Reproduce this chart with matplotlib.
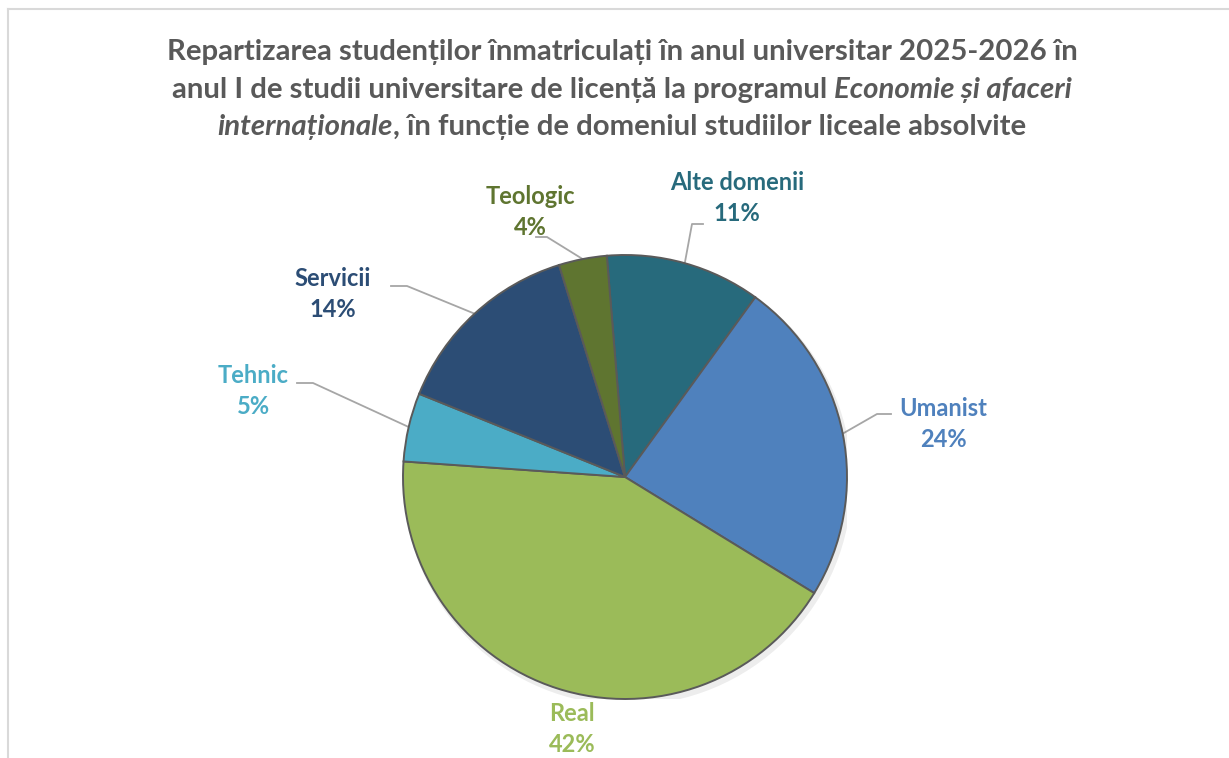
import numpy as np
import matplotlib
matplotlib.use('Agg')
import matplotlib.pyplot as plt

# data (percent of enrolled students)
categories = ['Alte domenii', 'Umanist', 'Real', 'Tehnic', 'Servicii', 'Teologic']
shares = [11.3, 23.8, 42.4, 5.0, 14.1, 3.5]
colors = ['#276A7C', '#4F81BD', '#9BBB59', '#4BACC6', '#2C4D75', '#5F7530']

title_lines = [
    [('Repartizarea studenților înmatriculați în anul universitar 2025-2026 în', 'normal')],
    [('anul I de studii universitare de licență la programul ', 'normal'),
     ('Economie și afaceri', 'italic')],
    [('internaționale', 'italic'),
     (', în funcție de domeniul studiilor liceale absolvite', 'normal')],
]

plt.rcParams['font.family'] = ['Lato', 'DejaVu Sans']

W, H = 1229, 758
fig = plt.figure(figsize=(W / 100, H / 100), dpi=100)

# pie geometry in pixels
cx, cy, R = 625, 477, 222
ax = fig.add_axes([(cx - R) / W, (H - cy - R) / H, 2 * R / W, 2 * R / H])

def px(x, y):
    # pixel position -> pie data coords
    return (x - cx) / R, (cy - y) / R

# soft shadow
ax.add_patch(plt.Circle((0.012, -0.018), 1.01, color='#000000', alpha=0.07, lw=0))

wedges, _ = ax.pie(shares, colors=colors, startangle=94.7, counterclock=False,
                   radius=1, wedgeprops=dict(edgecolor='#5A5A5A', linewidth=1.4))
ax.set_xlim(-1, 1)
ax.set_ylim(-1, 1)
ax.axis('off')

# label centres and leader elbows (pixels)
label_pos = [(737, 198), (943, 424), (572, 729), (253, 391), (333, 294), (530, 212)]
leaders = [
    [(692, 224), (703, 224)],
    [(877, 414), (891, 414)],
    None,
    [(313, 383), (297, 383)],
    [(407, 286), (391, 286)],
    [(547, 237), (536, 237)],
]

for w, name, val, col, pos, ld in zip(wedges, categories, shares, colors, label_pos, leaders):
    tx, ty = px(*pos)
    ax.text(tx, ty, f'{name}\n{round(val):d}%', ha='center', va='center',
            fontsize=17, fontweight='bold', color=col, linespacing=1.45,
            clip_on=False)
    if ld is not None:
        mid = np.deg2rad((w.theta1 + w.theta2) / 2)
        sx, sy = np.cos(mid), np.sin(mid)
        xs = [sx] + [px(*p)[0] for p in ld]
        ys = [sy] + [px(*p)[1] for p in ld]
        ax.plot(xs, ys, color='#A6A6A6', lw=1.3, clip_on=False, zorder=0.5)

# title with mixed italic pieces
fig.canvas.draw()
renderer = fig.canvas.get_renderer()
title_y = [52, 90, 127]
for line, yl in zip(title_lines, title_y):
    pieces = []
    total = 0
    for txt, style in line:
        t = fig.text(0, 1 - yl / H, txt, fontsize=21.2, fontweight='bold', style=style,
                     color='#595959', va='center', ha='left')
        w_px = t.get_window_extent(renderer).width
        pieces.append((t, w_px))
        total += w_px
    x0 = 622 - total / 2
    for t, w_px in pieces:
        t.set_x(x0 / W)
        x0 += w_px

# chart frame
fig.add_artist(plt.Line2D([8 / W, 8 / W], [0, 1 - 9 / H], color='#D9D9D9', lw=1.5))
fig.add_artist(plt.Line2D([8 / W, 1], [1 - 9 / H, 1 - 9 / H], color='#D9D9D9', lw=1.5))

fig.savefig('out.png', dpi=100, facecolor='white')
